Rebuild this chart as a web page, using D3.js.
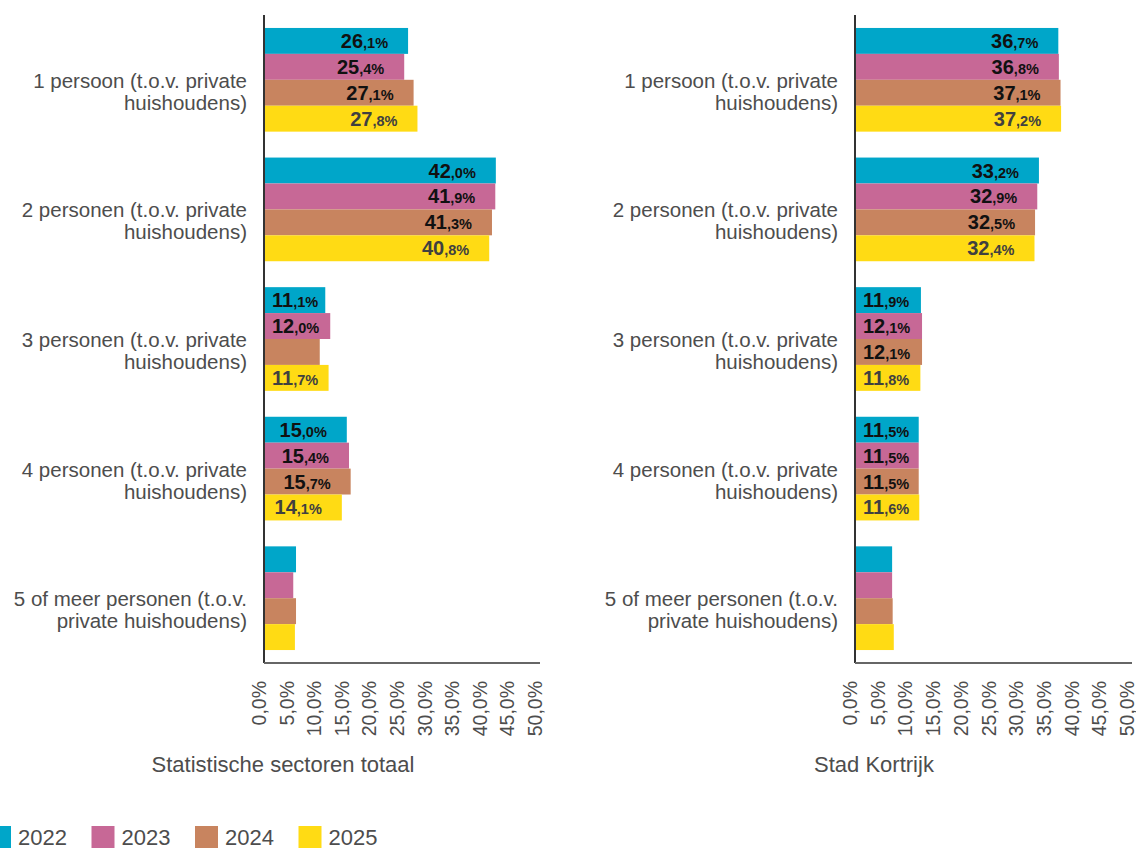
<!DOCTYPE html>
<html lang="nl">
  <head>
    <meta charset="utf-8">
    <title>Huishoudens naar grootte</title>
    <script src="https://d3js.org/d3.v7.min.js"></script>
    <style>
      body { margin: 0; background: #fff; }
      svg { display: block; font-family: "Liberation Sans", Arial, sans-serif; }
    </style>
  </head>
  <body>
    <script>
      const categories = [
        "1 persoon (t.o.v. private|huishoudens)",
        "2 personen (t.o.v. private|huishoudens)",
        "3 personen (t.o.v. private|huishoudens)",
        "4 personen (t.o.v. private|huishoudens)",
        "5 of meer personen (t.o.v.|private huishoudens)"
      ];
      const years = ["2022", "2023", "2024", "2025"];
      const colors = ["#00a6c9", "#c76896", "#c8845f", "#ffdb14"];
      const ticks = [0, 5, 10, 15, 20, 25, 30, 35, 40, 45, 50];

      // values per year, in category order
      const sectoren = {
        "2022": [26.1, 42.0, 11.1, 15.0, 5.8],
        "2023": [25.4, 41.9, 12.0, 15.4, 5.3],
        "2024": [27.1, 41.3, 10.1, 15.7, 5.8],
        "2025": [27.8, 40.8, 11.7, 14.1, 5.6]
      };
      const kortrijk = {
        "2022": [36.7, 33.2, 11.9, 11.5, 6.7],
        "2023": [36.8, 32.9, 12.1, 11.5, 6.7],
        "2024": [37.1, 32.5, 12.1, 11.5, 6.8],
        "2025": [37.2, 32.4, 11.8, 11.6, 7.0]
      };

      const width = 1136;
      const height = 848;
      const textColor = "#4d4d4d";

      const svg = d3.select("body").append("svg")
                    .attr("width", width)
                    .attr("height", height);

      const panels = [
        { title: "Statistische sectoren totaal", data: sectoren, x0: 264, x1: 540, labelX: 247, titleX: 283 },
        { title: "Stad Kortrijk", data: kortrijk, x0: 855, x1: 1132, labelX: 838, titleX: 874 }
      ];

      const yTop = 15, yBottom = 663;
      const y = d3.scaleBand().domain(categories).range([yTop, yBottom])
                  .paddingInner(0.2).paddingOuter(0.1);
      const ySub = d3.scaleBand().domain(years).range([0, y.bandwidth()]);

      const fmt = d3.format(".1f");

      panels.forEach(p => {
        const x = d3.scaleLinear().domain([0, 50]).range([p.x0, p.x1]);
        const g = svg.append("g");

        // category labels
        categories.forEach(c => {
          const lines = c.split("|");
          const t = g.append("text")
                     .attr("text-anchor", "end")
                     .attr("font-size", 20.5)
                     .attr("fill", textColor);
          lines.forEach((l, i) => {
            t.append("tspan").attr("x", p.labelX)
             .attr("y", y(c) + y.bandwidth() / 2 + 8 + i * 22)
             .text(l);
          });
        });

        const rows = [];
        years.forEach((yr, yi) => {
          p.data[yr].forEach((v, ci) => rows.push({ yr, yi, v, cat: categories[ci] }));
        });

        g.selectAll("rect.bar").data(rows).enter().append("rect")
         .attr("class", "bar")
         .attr("x", x(0))
         .attr("y", d => y(d.cat) + ySub(d.yr))
         .attr("width", d => x(d.v) - x(0))
         .attr("height", ySub.bandwidth())
         .attr("fill", d => colors[d.yi]);

        // value labels
        rows.filter(d => d.v >= 11).forEach(d => {
          const parts = fmt(d.v).split(".");
          const t = g.append("text")
                     .attr("font-weight", "bold")
                     .attr("fill", d.yi === 3 ? "#404040" : "#111")
                     .attr("y", y(d.cat) + ySub(d.yr) + ySub.bandwidth() / 2 + 7);
          t.append("tspan").attr("font-size", 20).text(parts[0]);
          t.append("tspan").attr("font-size", 14.5).text("," + parts[1] + "%");
          const w = t.node().getComputedTextLength();
          const start = Math.max(x(d.v) - 20 - w, x(0) + 8);
          t.attr("x", start);
        });

        // axes lines
        g.append("line").attr("x1", x(0)).attr("x2", x(0))
         .attr("y1", yTop).attr("y2", yBottom)
         .attr("stroke", "#333").attr("stroke-width", 2);
        g.append("line").attr("x1", x(0)).attr("x2", x(50))
         .attr("y1", yBottom).attr("y2", yBottom)
         .attr("stroke", "#666").attr("stroke-width", 2);

        // tick labels, rotated
        g.selectAll("text.tick").data(ticks).enter().append("text")
         .attr("class", "tick")
         .attr("transform", d => `translate(${x(d) + 2},681) rotate(-90)`)
         .attr("text-anchor", "end")
         .attr("font-size", 19.5)
         .attr("fill", textColor)
         .text(d => fmt(d).replace(".", ",") + "%");

        g.append("text")
         .attr("x", p.titleX).attr("y", 772)
         .attr("text-anchor", "middle")
         .attr("font-size", 22)
         .attr("fill", textColor)
         .text(p.title);
      });

      // legend
      const legend = svg.append("g");
      years.forEach((yr, i) => {
        const lx = -12 + i * 103.5;
        legend.append("rect").attr("x", lx).attr("y", 826)
              .attr("width", 23).attr("height", 22).attr("fill", colors[i]);
        legend.append("text").attr("x", lx + 30).attr("y", 845)
              .attr("font-size", 22).attr("fill", textColor).text(yr);
      });
    </script>
  </body>
</html>
